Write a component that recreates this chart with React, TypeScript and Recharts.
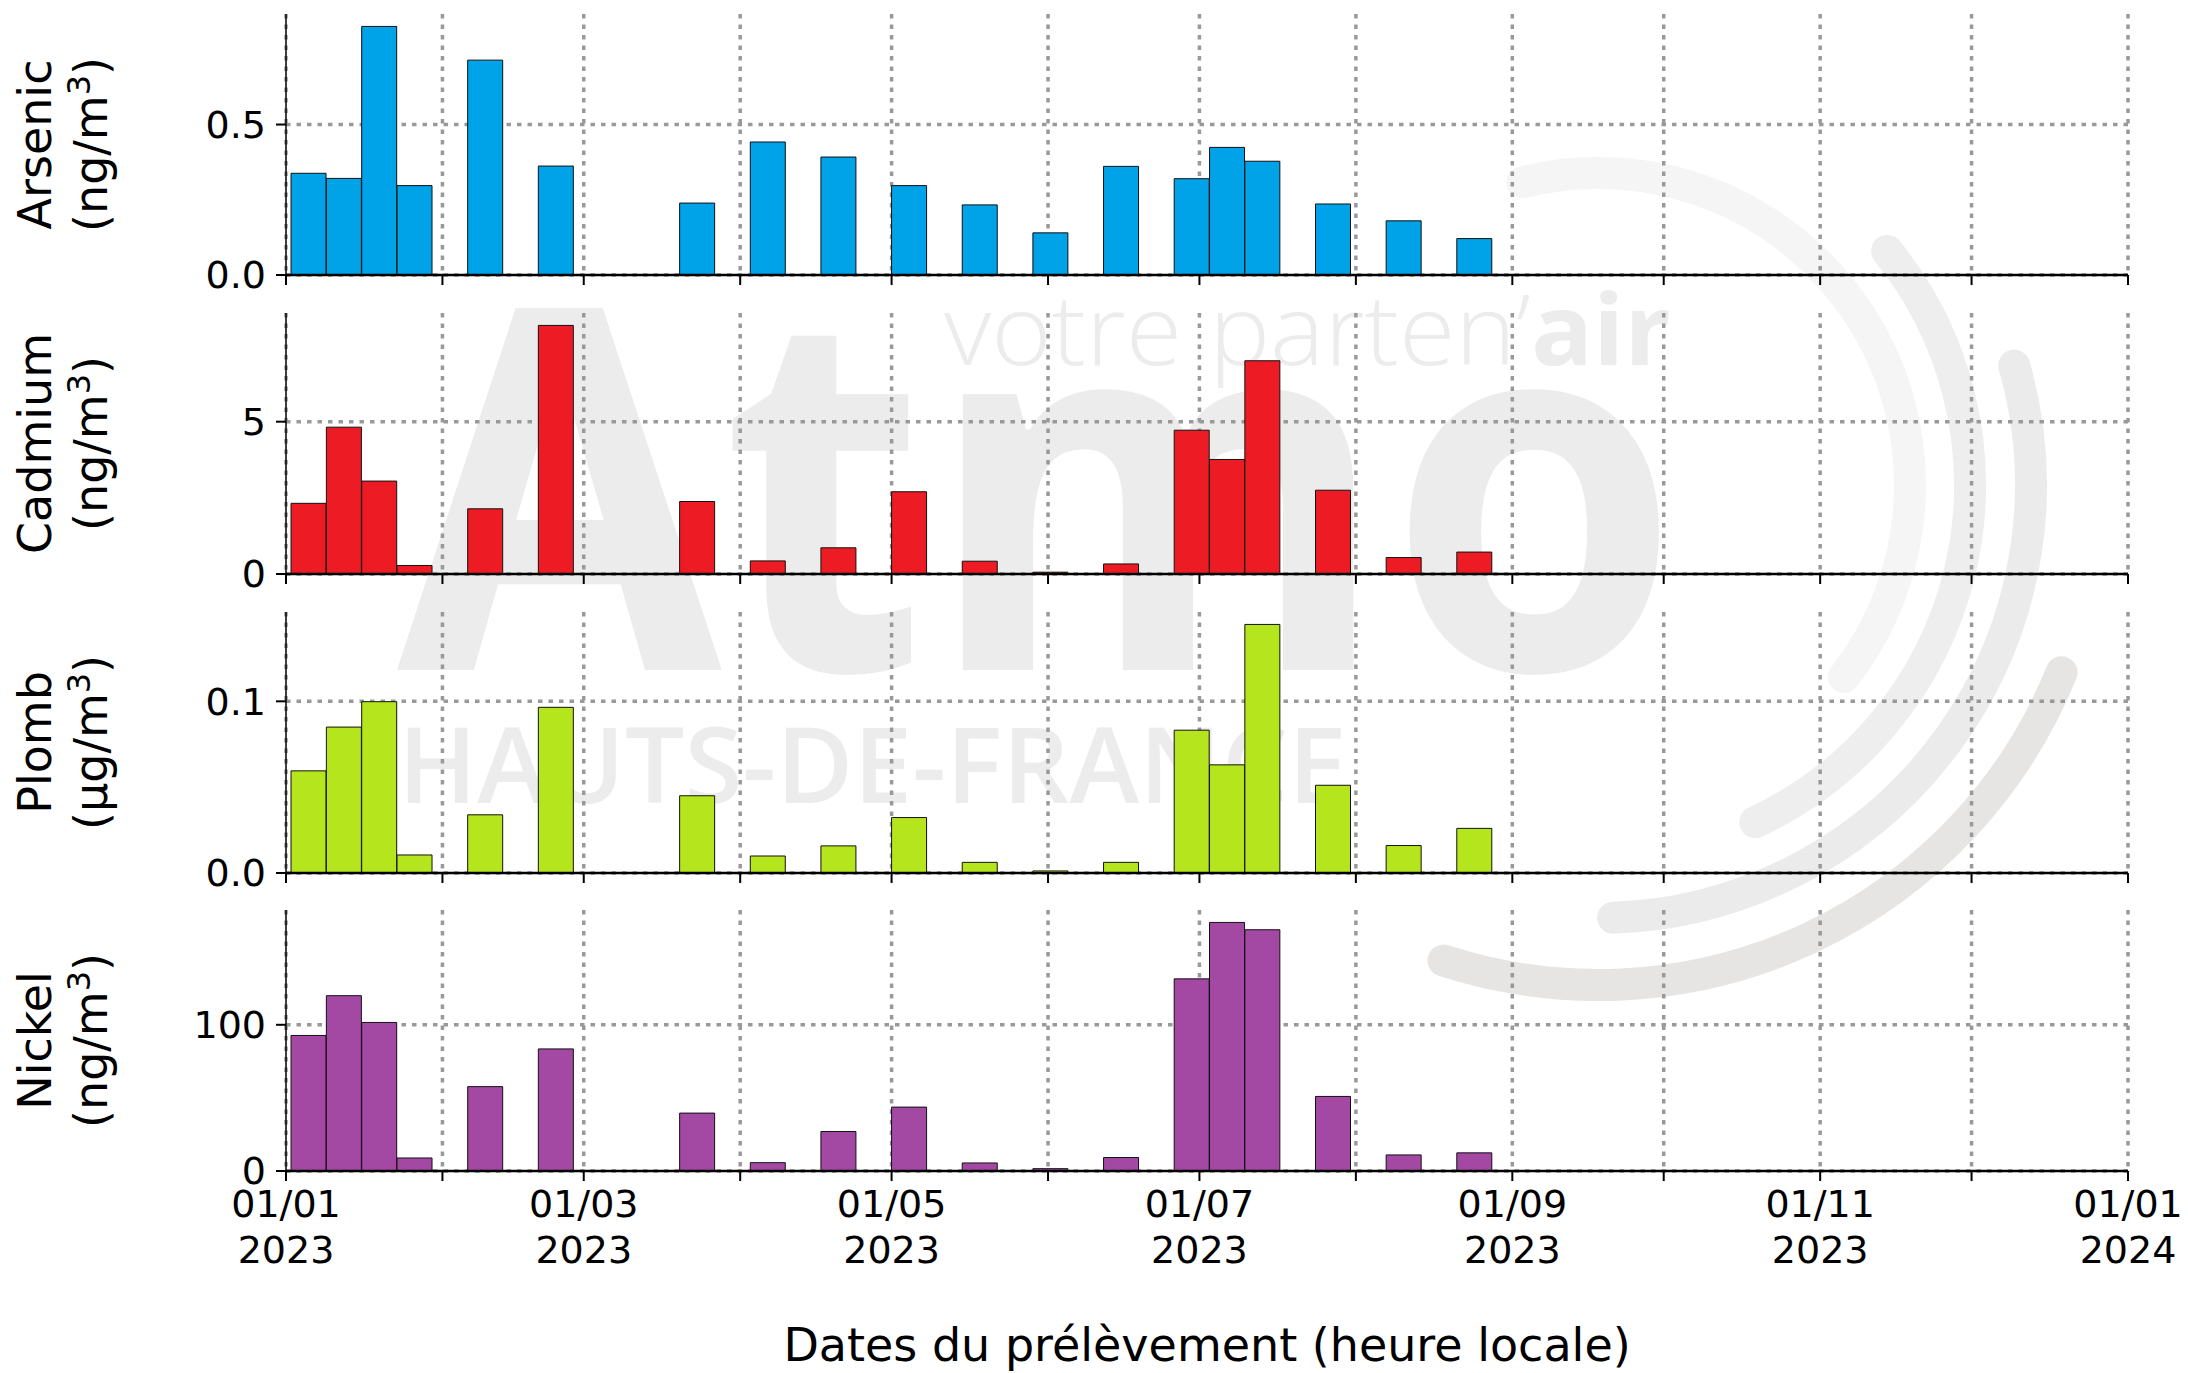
import React from "react";
import { BarChart, Bar, XAxis, YAxis, CartesianGrid } from "recharts";

// début de chaque prélèvement (durée 7 jours)
const sampleStarts = [
  "2023-01-02", "2023-01-09", "2023-01-16", "2023-01-23", "2023-02-06",
  "2023-02-20", "2023-03-20", "2023-04-03", "2023-04-17", "2023-05-01",
  "2023-05-15", "2023-05-29", "2023-06-12", "2023-06-26", "2023-07-03",
  "2023-07-10", "2023-07-24", "2023-08-07", "2023-08-21",
];

const arsenic = [0.338, 0.321, 0.826, 0.297, 0.714, 0.362, 0.239, 0.442, 0.392, 0.297, 0.233, 0.14, 0.361, 0.32, 0.424, 0.378, 0.236, 0.18, 0.121];
const cadmium = [2.32, 4.82, 3.05, 0.28, 2.14, 8.16, 2.38, 0.43, 0.86, 2.7, 0.42, 0.06, 0.33, 4.72, 3.76, 7.0, 2.75, 0.54, 0.72];
const plomb = [0.0595, 0.085, 0.0998, 0.0105, 0.0339, 0.0965, 0.045, 0.0099, 0.0158, 0.0323, 0.0062, 0.0012, 0.0062, 0.0832, 0.063, 0.1448, 0.0511, 0.016, 0.026];
const nickel = [92.7, 119.9, 101.6, 8.9, 57.7, 83.5, 39.6, 5.7, 27, 43.7, 5.5, 1.6, 9.2, 131.4, 170, 165, 51, 11, 12.4];

const monthStarts = [
  "2023-01-01", "2023-02-01", "2023-03-01", "2023-04-01", "2023-05-01",
  "2023-06-01", "2023-07-01", "2023-08-01", "2023-09-01", "2023-10-01",
  "2023-11-01", "2023-12-01", "2024-01-01",
];
const monthLabels = [
  "01/01\n2023", "", "01/03\n2023", "", "01/05\n2023", "", "01/07\n2023",
  "", "01/09\n2023", "", "01/11\n2023", "", "01/01\n2024",
];

const arsenicTicks = [0, 0.5];
const cadmiumTicks = [0, 5];
const plombTicks = [0, 0.1];
const nickelTicks = [0, 100];

const SAMPLE_DAYS = 7;
const dayOf = (s: string) => (Date.parse(s) - Date.parse("2023-01-01")) / 86400000;
const monthDays = monthStarts.map(dayOf);

const rows = sampleStarts.map((d, i) => ({
  day: dayOf(d) + SAMPLE_DAYS / 2,
  arsenic: arsenic[i],
  cadmium: cadmium[i],
  plomb: plomb[i],
  nickel: nickel[i],
}));

const W = 2188;
const H = 1373;
const PLOT_LEFT = 286;
const PLOT_RIGHT = 2128;
const PLOT_H = 261;
const Y_AXIS_W = 120;
const FONT = "'DejaVu Sans', sans-serif";

const panels = [
  { key: "arsenic", name: "Arsenic", unit: "ng", color: "#00A2E8", values: arsenic, ticks: arsenicTicks, digits: 1, top: 14 },
  { key: "cadmium", name: "Cadmium", unit: "ng", color: "#ED1C24", values: cadmium, ticks: cadmiumTicks, digits: 0, top: 312.7 },
  { key: "plomb", name: "Plomb", unit: "µg", color: "#B5E61D", values: plomb, ticks: plombTicks, digits: 1, top: 611.7 },
  { key: "nickel", name: "Nickel", unit: "ng", color: "#A349A4", values: nickel, ticks: nickelTicks, digits: 0, top: 910 },
];

function DateTick(props: any) {
  const { x, y, payload, show } = props;
  const label = show ? monthLabels[monthDays.indexOf(payload.value)] || "" : "";
  if (!label) return <g />;
  const [l1, l2] = label.split("\n");
  return (
    <text x={x} y={y} textAnchor="middle" fontSize={38} fontFamily={FONT} fill="#000">
      <tspan x={x} dy={28}>{l1}</tspan>
      <tspan x={x} dy={46}>{l2}</tspan>
    </text>
  );
}

function YLabel({ viewBox, name, unit }: any) {
  const cy = viewBox.y + viewBox.height / 2;
  const x1 = 51;
  const x2 = 107;
  return (
    <g fontFamily={FONT} fontSize={46} fill="#000">
      <text x={x1} y={cy} textAnchor="middle" transform={`rotate(-90 ${x1} ${cy})`}>{name}</text>
      <text x={x2} y={cy} textAnchor="middle" transform={`rotate(-90 ${x2} ${cy})`}>
        ({unit}/m<tspan dy={-17} fontSize={32}>3</tspan><tspan dy={17}>)</tspan>
      </text>
    </g>
  );
}

function Panel({ p, bottom }: any) {
  const yMax = Math.max(...p.values) * 1.05;
  const xAxisH = bottom ? 110 : 30;
  const m = { top: 6, right: W - PLOT_RIGHT, left: PLOT_LEFT - Y_AXIS_W, bottom: 0 };
  return (
    <div style={{ position: "absolute", left: 0, top: p.top - m.top }}>
      <BarChart width={W} height={m.top + PLOT_H + xAxisH} data={rows} margin={m} barCategoryGap={0} barGap={0}>
        <CartesianGrid stroke="#999" strokeWidth={3.5} strokeDasharray="4.5 6" syncWithTicks />
        <XAxis
          type="number"
          dataKey="day"
          domain={[0, 365]}
          ticks={monthDays}
          interval={0}
          allowDataOverflow
          height={xAxisH}
          tickSize={10}
          tickMargin={8}
          tickLine={{ stroke: "#000", strokeWidth: 2 }}
          axisLine={{ stroke: "#000", strokeWidth: 2.5 }}
          tick={<DateTick show={bottom} />}
        />
        <YAxis
          type="number"
          domain={[0, yMax]}
          ticks={p.ticks}
          interval={0}
          width={Y_AXIS_W}
          tickSize={10}
          tickMargin={10}
          tickFormatter={(v: number) => v.toFixed(p.digits)}
          tick={{ fill: "#000", fontSize: 38, fontFamily: FONT }}
          tickLine={{ stroke: "#000", strokeWidth: 2 }}
          axisLine={{ stroke: "#000", strokeWidth: 1.5 }}
          label={{ content: (lp: any) => <YLabel viewBox={lp.viewBox} name={p.name} unit={p.unit} /> }}
        />
        <Bar dataKey={p.key} fill={p.color} stroke="#111" strokeWidth={1} isAnimationActive={false} />
      </BarChart>
    </div>
  );
}

function arcPath(cx: number, cy: number, r: number, a0: number, a1: number) {
  const rad = (a: number) => (a * Math.PI) / 180;
  const x0 = cx + r * Math.cos(rad(a0));
  const y0 = cy + r * Math.sin(rad(a0));
  const x1 = cx + r * Math.cos(rad(a1));
  const y1 = cy + r * Math.sin(rad(a1));
  return `M${x0},${y0} A${r},${r} 0 ${a1 - a0 > 180 ? 1 : 0} 1 ${x1},${y1}`;
}

function Watermark() {
  const arcs = [
    { r: 312, a0: -104, a1: 38, c: "#f5f5f5" },
    { r: 372, a0: -39, a1: 65, c: "#eeeeee" },
    { r: 433, a0: -16, a1: 88, c: "#ebebeb" },
    { r: 500, a0: 22, a1: 108, c: "#e6e5e3" },
  ];
  return (
    <svg width={W} height={H} style={{ position: "absolute", left: 0, top: 0 }}>
      <text x={397} y={670} fontFamily="'Open Sans', sans-serif" fontWeight={700} fontSize={505} fill="#ececec" textLength={1283} lengthAdjust="spacingAndGlyphs">Atmo</text>
      <text x={944} y={365} fontFamily="'Open Sans', sans-serif" fontWeight={300} fontSize={98} fill="#ececec" textLength={727} lengthAdjust="spacingAndGlyphs">
        votre parten’<tspan fontWeight={700}>air</tspan>
      </text>
      <text x={398} y={803} fontFamily="'Open Sans', sans-serif" fontWeight={600} fontSize={105} fill="#ececec" textLength={949} lengthAdjust="spacingAndGlyphs">HAUTS-DE-FRANCE</text>
      {arcs.map((a, i) => (
        <path key={i} d={arcPath(1598, 485, a.r, a.a0, a.a1)} fill="none" stroke={a.c} strokeWidth={32} strokeLinecap="round" />
      ))}
      <text x={(PLOT_LEFT + PLOT_RIGHT) / 2} y={1361} textAnchor="middle" fontFamily={FONT} fontSize={46} fill="#000">
        Dates du prélèvement (heure locale)
      </text>
    </svg>
  );
}

export default function App() {
  return (
    <div style={{ position: "relative", width: W, height: H, background: "#fff", overflow: "hidden" }}>
      <style>{"body{margin:0}"}</style>
      <Watermark />
      {panels.map((p, i) => (
        <Panel key={p.key} p={p} bottom={i === panels.length - 1} />
      ))}
    </div>
  );
}
